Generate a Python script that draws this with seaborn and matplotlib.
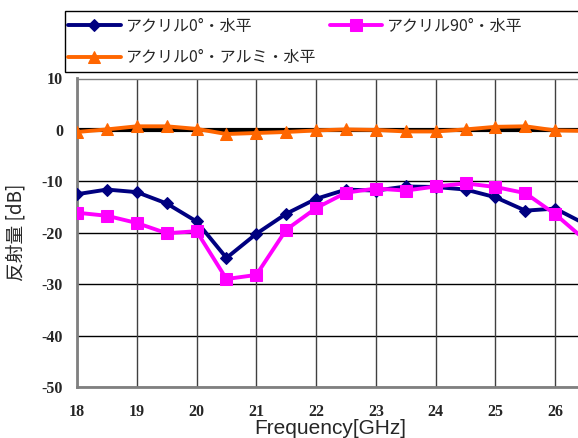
import numpy as np
import pandas as pd
import seaborn as sns
import matplotlib
matplotlib.use("Agg")
import matplotlib.pyplot as plt
from matplotlib.patches import Rectangle

freq = [18.0, 18.5, 19.0, 19.5, 20.0, 20.5, 21.0, 21.5, 22.0, 22.5, 23.0,
        23.5, 24.0, 24.5, 25.0, 25.5, 26.0, 26.5]
acryl0 = [-12.5, -11.6, -12.1, -14.3, -17.8, -24.9, -20.2, -16.3, -13.4, -11.6,
          -11.8, -11.0, -11.1, -11.6, -13.1, -15.7, -15.3, -18.3]
acryl90 = [-16.1, -16.7, -18.1, -20.1, -19.7, -29.0, -28.2, -19.4, -15.2, -12.2,
           -11.4, -11.8, -11.0, -10.4, -11.1, -12.3, -16.4, -21.4]
acryl0_al = [-0.4, 0.1, 0.7, 0.7, 0.2, -0.8, -0.6, -0.4, -0.1, 0.1,
             0.0, -0.3, -0.3, 0.1, 0.6, 0.7, -0.1, -0.2]
labels = ["アクリル0°・水平", "アクリル90°・水平", "アクリル0°・アルミ・水平"]
xticks = [18, 19, 20, 21, 22, 23, 24, 25, 26]
yticks = [10, 0, -10, -20, -30, -40, -50]

df = pd.DataFrame({
    "freq": freq * 3,
    "val": acryl0 + acryl90 + acryl0_al,
    "series": [labels[0]] * len(freq) + [labels[1]] * len(freq) + [labels[2]] * len(freq),
})

sns.set_theme(style="white")
plt.rcParams["font.family"] = ["Noto Sans CJK JP", "DejaVu Sans"]

W, H = 578, 438
fig = plt.figure(figsize=(5.78, 4.38), dpi=100)
ax = fig.add_axes([77 / W, 1 - 387 / H, 1 - 77 / W, (387 - 78.5) / H])

# grid
for yv in yticks:
    ax.axhline(yv, color="black", lw=1.0, zorder=0.5)
for xv in xticks:
    ax.axvline(xv, color="#404040", lw=1.0, zorder=0.5)
ax.axhline(0, color="black", lw=3.0, zorder=1.5)

palette = {labels[0]: "#000080", labels[1]: "#FF00FF", labels[2]: "#FF6600"}
markers = {labels[0]: "D", labels[1]: "s", labels[2]: "^"}
sizes = {labels[0]: 6, labels[1]: 8, labels[2]: 8}
for lab in labels:
    sub = df[df["series"] == lab]
    sns.lineplot(data=sub, x="freq", y="val", ax=ax, color=palette[lab],
                 marker=markers[lab], markersize=sizes[lab], lw=2.8,
                 markeredgecolor=palette[lab], label=lab, zorder=3, legend=False)

ax.set_xlim(18, 26.38)
ax.set_ylim(-50, 10)
ax.set_xticks(xticks)
ax.set_yticks(yticks)
ax.set_xticklabels([str(v) for v in xticks], fontfamily="Liberation Serif",
                   fontweight="bold", fontsize=11.5)
ax.set_yticklabels([str(v) for v in yticks], fontfamily="Liberation Serif",
                   fontweight="bold", fontsize=11.5)
ax.tick_params(axis="x", length=0, pad=12)
ax.tick_params(axis="y", length=0, pad=10)
ax.set_xlabel("")
fig.text(330 / W, 1 - 428 / H, "Frequency[GHz]", fontfamily=["Liberation Sans", "DejaVu Sans"],
         fontsize=15, ha="center", va="center")
ax.set_ylabel("反射量 [dB]", fontsize=13.5, labelpad=11)
for side in ["left", "bottom"]:
    ax.spines[side].set_color("#808080")
    ax.spines[side].set_linewidth(2.0)
ax.spines["top"].set_color("#808080")
ax.spines["top"].set_linewidth(1.0)
ax.spines["right"].set_visible(False)

# legend box
fig.patches.append(Rectangle((65 / W, 1 - 72 / H), 1.0, 61 / H, transform=fig.transFigure,
                             facecolor="white", edgecolor="black", lw=1.0, zorder=0))
handles, labs = ax.get_legend_handles_labels()
order = [0, 2, 1]
leg = fig.legend([handles[i] for i in order], [labs[i] for i in order],
                 loc="upper left", ncol=2,
                 bbox_to_anchor=(68 / W, 1 - 18 / H), bbox_transform=fig.transFigure,
                 frameon=False, fontsize=11.5, handlelength=3.3, handletextpad=0.25,
                 borderaxespad=0, borderpad=0, labelspacing=0.9, columnspacing=0.9)

fig.savefig("out.png", dpi=100)
